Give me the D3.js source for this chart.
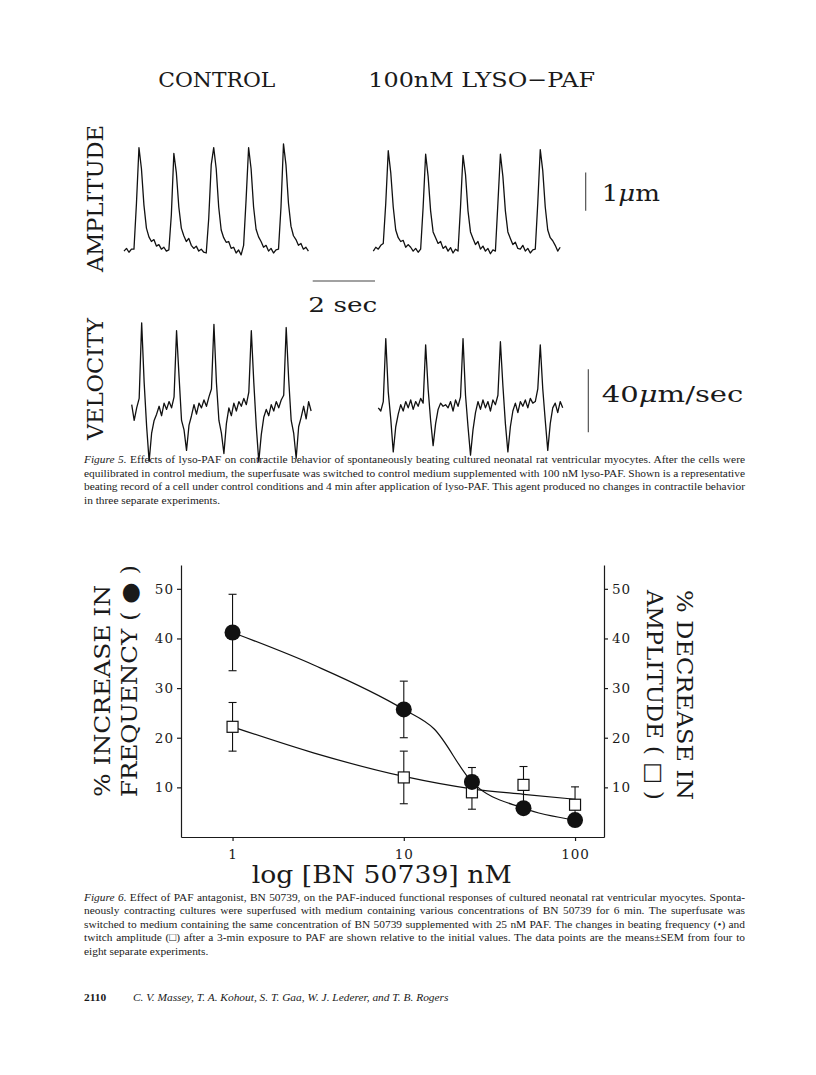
<!DOCTYPE html>
<html>
<head>
<meta charset="utf-8">
<script src="https://d3js.org/d3.v7.min.js"></script>
<style>
  body { margin: 0; background: #fff; }
  svg { display: block; background: #fff; }
  .big { font-family: 'DejaVu Serif', serif; fill: #1a1a1a; }
  .cap { font-family: 'Liberation Serif', 'Times New Roman', serif; font-size: 11.4px; fill: #1a1a1a; }
  .trace { fill: none; stroke: #111; stroke-width: 1.3; stroke-linejoin: round; }
  .bar { stroke: #444; stroke-width: 1.1; }
  .axis path, .axis line { stroke: #1a1a1a; stroke-width: 1.2; fill: none; }
  .axis text { font-family: 'DejaVu Serif', serif; font-size: 13.5px; fill: #1a1a1a; letter-spacing: 1px; }
  .fit { fill: none; stroke: #111; stroke-width: 1.2; }
  .err { stroke: #111; stroke-width: 1.1; }
</style>
</head>
<body>
<svg id="page" width="816" height="1075"></svg>
<script>
// ---- Figure 5 traces (one sample every 0.08 s) ----
var dt = 0.08;
// contraction amplitude, micrometres above resting baseline
var ampControl = [0.05,0.12,0.02,0.1,0.1, 1.3,2.75,2.2,1.25,0.65, 0.42,0.3,0.35,0.18,0.22,
  0.1,0.15,0.05,0.08,1.0, 2.6,2.1,1.2,0.65,0.45, 0.3,0.38,0.2,0.12,0.18,
  0.05,0.1,0.02,0.0,0.9, 2.3,2.75,2.2,1.2,0.6, 0.4,0.28,0.3,0.12,0.15,
  0.0,0.08,-0.05,0.2,1.4, 2.75,2.2,1.2,0.62,0.42, 0.3,0.15,0.2,0.05,0.12,
  0.0,0.08,0.1,1.2,2.85, 2.3,1.3,0.7,0.45,0.35, 0.2,0.25,0.1,0.15,0.05];
var ampLyso = [0.05,0.15,0.1,0.2,0.25, 1.3,2.67,2.1,1.2,0.6, 0.4,0.3,0.33,0.15,0.22,
  0.15,0.05,0.12,0.02,0.1, 1.2,2.58,2.0,1.1,0.55, 0.4,0.25,0.3,0.12,0.18,
  0.05,0.14,0.0,0.1,0.05, 1.2,2.55,2.05,1.1,0.55, 0.38,0.22,0.3,0.1,0.18,
  0.05,0.12,-0.02,0.08,0.05, 1.3,2.58,2.0,1.1,0.55, 0.38,0.22,0.28,0.12,0.1,
  0.2,0.05,0.12,0.0,0.08, 0.1,1.3,2.7,2.15,1.2, 0.6,0.4,0.32,0.2,0.05, 0.15];
// shortening velocity, micrometres per second
var velControl = [4,-6,2,8,56, 18,-10,-32,-14,-6, -2,3,-3,5,1, 6,2,9,51,22,
  -6,-12,-25,-9,-3, 4,-2,5,2,7, 3,9,14,55,18, -6,-14,-27,-8,2,
  -3,5,0,6,3, 8,4,12,51,18, -10,-32,-15,-4,1, -3,4,0,6,2,
  7,10,53,20,-6, -14,-30,-10,-4,3, -5,6,0];
var velLyso = [2,0,6,46,12, -5,-26,-10,-2,4, 0,6,2,7,1, 6,3,8,5,42,
  14,-6,-22,-8,1, 5,3,4,2,6, 0,7,3,9,46, 10,-10,-28,-12,-1,
  6,1,7,2,6, 0,7,4,10,44, 16,-8,-26,-10,0, 5,-1,6,3,7,
  2,8,5,6,14, 42,14,-6,-25,-8, 2,5,-1,6,2];

// ---- Figure 6 data ----
var conc = [1, 10, 25, 50, 100];                 // BN 50739, nM
var freqMean = [41.2, 25.7, 11.1, 5.8, 3.4];     // % increase in frequency
var freqSem  = [7.7, 5.7, 2.9, 1.0, 1.0];
var amplMean = [22.2, 12.0, 9.0, 10.5, 6.5];     // % decrease in amplitude
var amplSem  = [4.9, 5.3, 3.4, 3.7, 3.6];
var freqFitX = [1, 3, 10, 15, 25, 50, 100];
var freqFitY = [41.2, 34.6, 25.7, 21.8, 11.1, 5.8, 3.4];
var amplFitX = [1, 3, 10, 25, 50, 100];
var amplFitY = [22.2, 16.9, 12.2, 9.7, 8.6, 7.6];
var yTicks = [10, 20, 30, 40, 50];
var xTicks = [1, 10, 100];

var svg = d3.select('#page');

// ================= Figure 5 =================
var tx = d3.scaleLinear().domain([0, 2]).range([0, 62.3]);
var yAmp = d3.scaleLinear().domain([0, 1]).range([253, 214.7]);
var yVel = d3.scaleLinear().domain([0, 40]).range([411, 348]);

var traces = [
  {data: ampControl, x0: 124, y: yAmp},
  {data: ampLyso, x0: 373.3, y: yAmp},
  {data: velControl, x0: 131.7, y: yVel},
  {data: velLyso, x0: 378.3, y: yVel}
];
traces.forEach(function(tr) {
  var line = d3.line()
    .x(function(d, i) { return tr.x0 + tx(i * dt); })
    .y(function(d) { return tr.y(d); });
  svg.append('path').attr('class', 'trace').attr('d', line(tr.data));
});

// scale bars
svg.append('line').attr('class', 'bar')
  .attr('x1', 312.7).attr('x2', 312.7 + tx(2)).attr('y1', 281).attr('y2', 281);
svg.append('line').attr('class', 'bar')
  .attr('x1', 585.7).attr('x2', 585.7).attr('y1', yAmp(1.1)).attr('y2', yAmp(2.1));
svg.append('line').attr('class', 'bar')
  .attr('x1', 588.3).attr('x2', 588.3).attr('y1', yVel(-13.5)).attr('y2', yVel(26.5));

function bigText(str, x, y, size, len, rot) {
  var t = svg.append('text').attr('class', 'big')
    .attr('font-size', size)
    .attr('textLength', len).attr('lengthAdjust', 'spacingAndGlyphs');
  if (rot) t.attr('transform', 'translate(' + x + ',' + y + ') rotate(' + rot + ')');
  else t.attr('x', x).attr('y', y);
  t.text(str);
  return t;
}
bigText('CONTROL', 158.3, 87.3, 21, 117);
bigText('100nM LYSO\u2212PAF', 368.3, 87.3, 21, 226.7);
bigText('AMPLITUDE', 103, 272, 22, 147, -90);
bigText('VELOCITY', 103, 440, 22, 122, -90);
bigText('2 sec', 308.3, 311.7, 21, 69);

var um1 = svg.append('text').attr('class', 'big').attr('font-size', 22)
  .attr('x', 601.7).attr('y', 200.7).attr('textLength', 58.3).attr('lengthAdjust', 'spacingAndGlyphs');
um1.append('tspan').text('1');
um1.append('tspan').attr('font-style', 'italic').text('\u03bc');
um1.append('tspan').text('m');
var um2 = svg.append('text').attr('class', 'big').attr('font-size', 22)
  .attr('x', 601.7).attr('y', 401.7).attr('textLength', 141.6).attr('lengthAdjust', 'spacingAndGlyphs');
um2.append('tspan').text('40');
um2.append('tspan').attr('font-style', 'italic').text('\u03bc');
um2.append('tspan').text('m/sec');

// captions
function captionLine(parts, x, y, right) {
  var t = svg.append('text').attr('class', 'cap').attr('x', x).attr('y', y);
  parts.forEach(function(p) {
    t.append('tspan').text(p[0])
      .attr('font-style', p[1] === 'i' ? 'italic' : null)
      .attr('font-weight', p[1] === 'b' ? 'bold' : null);
  });
  if (right) {
    var w = t.node().getComputedTextLength();
    var n = (t.text().match(/ /g) || []).length;
    if (n) t.style('word-spacing', ((right - x - w) / n) + 'px');
  }
}
var capL = 84, capR = 745;
var fig5 = [
  [['Figure 5.', 'i'], [' Effects of lyso-PAF on contractile behavior of spontaneously beating cultured neonatal rat ventricular myocytes. After the cells were']],
  [['equilibrated in control medium, the superfusate was switched to control medium supplemented with 100 nM lyso-PAF. Shown is a representative']],
  [['beating record of a cell under control conditions and 4 min after application of lyso-PAF. This agent produced no changes in contractile behavior']],
  [['in three separate experiments.']]
];
fig5.forEach(function(l, i) {
  captionLine(l, capL, 463 + i * 13.6, i < fig5.length - 1 ? capR : null);
});

// ================= Figure 6 =================
var x = d3.scaleLog().domain([0.5, 147.6]).range([181, 604]);
var y = d3.scaleLinear().domain([0, 54.8]).range([837, 565]);

svg.append('g').attr('class', 'axis')
  .attr('transform', 'translate(0,837)')
  .call(d3.axisBottom(x).tickValues(xTicks).tickSizeInner(4).tickSizeOuter(0).tickPadding(8)
    .tickFormat(d3.format('d')));
svg.append('g').attr('class', 'axis')
  .attr('transform', 'translate(181,0)')
  .call(d3.axisLeft(y).tickValues(yTicks).tickSizeInner(4).tickSizeOuter(0).tickPadding(3));
svg.append('g').attr('class', 'axis')
  .attr('transform', 'translate(604,0)')
  .call(d3.axisRight(y).tickValues(yTicks).tickSizeInner(4).tickSizeOuter(0).tickPadding(4));

var fitLine = d3.line().curve(d3.curveMonotoneX)
  .x(function(d) { return x(d[0]); }).y(function(d) { return y(d[1]); });
svg.append('path').attr('class', 'fit').attr('d', fitLine(d3.zip(freqFitX, freqFitY)));
svg.append('path').attr('class', 'fit').attr('d', fitLine(d3.zip(amplFitX, amplFitY)));

function errBars(mean, sem) {
  var g = svg.append('g');
  conc.forEach(function(c, i) {
    var cx = x(c), y1 = y(mean[i] + sem[i]), y2 = y(mean[i] - sem[i]);
    g.append('line').attr('class', 'err').attr('x1', cx).attr('x2', cx).attr('y1', y1).attr('y2', y2);
    g.append('line').attr('class', 'err').attr('x1', cx - 4).attr('x2', cx + 4).attr('y1', y1).attr('y2', y1);
    g.append('line').attr('class', 'err').attr('x1', cx - 4).attr('x2', cx + 4).attr('y1', y2).attr('y2', y2);
  });
}
errBars(amplMean, amplSem);
errBars(freqMean, freqSem);

svg.append('g').selectAll('rect').data(conc).enter().append('rect')
  .attr('x', function(d) { return x(d) - 5.5; })
  .attr('y', function(d, i) { return y(amplMean[i]) - 5.5; })
  .attr('width', 11).attr('height', 11)
  .attr('fill', '#fff').attr('stroke', '#111').attr('stroke-width', 1.2);
svg.append('g').selectAll('circle').data(conc).enter().append('circle')
  .attr('cx', function(d) { return x(d); })
  .attr('cy', function(d, i) { return y(freqMean[i]); })
  .attr('r', 8).attr('fill', '#111');

// axis titles
bigText('% INCREASE IN', 110, 797, 22, 212, -90);
bigText('FREQUENCY ( \u25CF )', 137, 797, 22, 232, -90);
bigText('% DECREASE IN', 677, 590, 22, 210, 90);
bigText('AMPLITUDE ( \u25A1 )', 647, 590, 22, 210, 90);
bigText('log [BN 50739] nM', 251.7, 883, 24, 260);

var fig6 = [
  [['Figure 6.', 'i'], [' Effect of PAF antagonist, BN 50739, on the PAF-induced functional responses of cultured neonatal rat ventricular myocytes. Sponta-']],
  [['neously contracting cultures were superfused with medium containing various concentrations of BN 50739 for 6 min. The superfusate was']],
  [['switched to medium containing the same concentration of BN 50739 supplemented with 25 nM PAF. The changes in beating frequency (\u2022) and']],
  [['twitch amplitude (\u25A1) after a 3-min exposure to PAF are shown relative to the initial values. The data points are the means\u00B1SEM from four to']],
  [['eight separate experiments.']]
];
fig6.forEach(function(l, i) {
  captionLine(l, capL, 900.5 + i * 13.6, i < fig6.length - 1 ? capR : null);
});

// running footer
captionLine([['2110', 'b']], capL, 1001, null);
captionLine([['C. V. Massey, T. A. Kohout, S. T. Gaa, W. J. Lederer, and T. B. Rogers', 'i']], 133, 1001, null);
</script>
</body>
</html>
